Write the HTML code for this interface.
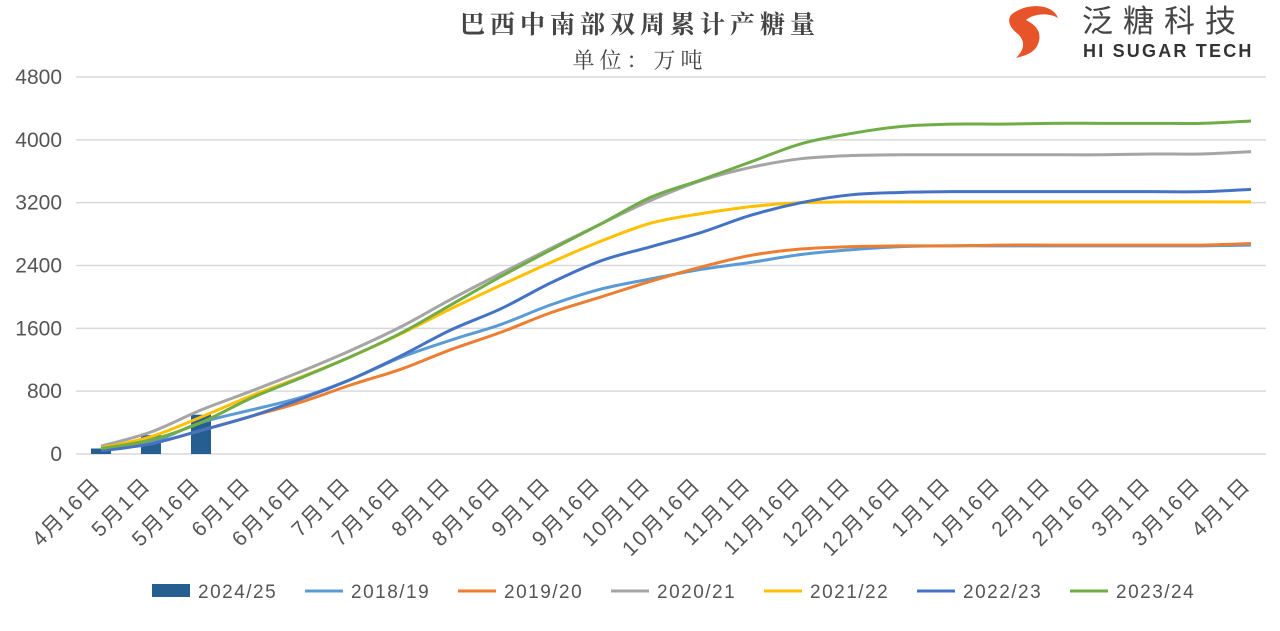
<!DOCTYPE html>
<html><head><meta charset="utf-8"><style>
body{margin:0;background:#fff;width:1280px;height:626px;overflow:hidden;font-family:"Liberation Sans","Noto Sans CJK SC",sans-serif;}
</style></head><body>
<svg id="s" width="1280" height="626" xmlns="http://www.w3.org/2000/svg" font-family="Liberation Sans, Noto Sans CJK SC, sans-serif">
<text x="640" y="33" text-anchor="middle" font-size="25" font-weight="bold" fill="#444" font-family="Noto Serif CJK SC, serif" letter-spacing="5">巴西中南部双周累计产糖量</text>
<text x="640" y="68" text-anchor="middle" font-size="22" fill="#444" font-family="Noto Serif CJK SC, serif" letter-spacing="5">单位：万吨</text>
<g transform="translate(1008,4)">
<path d="M4 10 C20 -2 45 0 50 14 C40 8 25 10 18 16 C30 22 34 30 30 40 C26 50 15 52 8 54 C16 46 18 38 10 30 C2 24 -2 16 4 10Z" fill="#e8542a"/>
</g>
<text x="1082" y="32" font-size="31" fill="#444" letter-spacing="10" font-family="Noto Sans CJK SC, sans-serif">泛糖科技</text>
<text x="1083" y="57" font-size="18" font-weight="bold" fill="#333" letter-spacing="2.2">HI SUGAR TECH</text>
<g id="grid"></g><g id="bars"></g><g id="lines" fill="none" stroke-width="3" stroke-linejoin="round"></g><g id="xl"></g>
<g font-size="19" fill="#555" letter-spacing="1.5">
<rect x="152" y="584" width="38" height="13" fill="#255e91"/><text x="198" y="598">2024/25</text>
<line x1="305" y1="591" x2="343" y2="591" stroke="#5b9bd5" stroke-width="3"/><text x="351" y="598">2018/19</text>
<line x1="458" y1="591" x2="496" y2="591" stroke="#ed7d31" stroke-width="3"/><text x="504" y="598">2019/20</text>
<line x1="611" y1="591" x2="649" y2="591" stroke="#a5a5a5" stroke-width="3"/><text x="657" y="598">2020/21</text>
<line x1="764" y1="591" x2="802" y2="591" stroke="#ffc000" stroke-width="3"/><text x="810" y="598">2021/22</text>
<line x1="917" y1="591" x2="955" y2="591" stroke="#4472c4" stroke-width="3"/><text x="963" y="598">2022/23</text>
<line x1="1070" y1="591" x2="1108" y2="591" stroke="#70ad47" stroke-width="3"/><text x="1116" y="598">2023/24</text>
</g>
</svg>
<script>
const NS="http://www.w3.org/2000/svg";
function el(p,t,a,txt){const e=document.createElementNS(NS,t);for(const k in a)e.setAttribute(k,a[k]);if(txt)e.textContent=txt;document.getElementById(p).appendChild(e);return e;}
const Y=v=>454-v*377/4800, X=i=>101+50*i;
for(let k=0;k<=6;k++){const y=Y(k*800);el("grid","line",{x1:76,x2:1266,y1:y,y2:y,stroke:"#d9d9d9","stroke-width":1.5});
el("grid","text",{x:62,y:y+7,"text-anchor":"end","font-size":21,fill:"#555"},String(k*800));}
const cats=["4月16日","5月1日","5月16日","6月1日","6月16日","7月1日","7月16日","8月1日","8月16日","9月1日","9月16日","10月1日","10月16日","11月1日","11月16日","12月1日","12月16日","1月1日","1月16日","2月1日","2月16日","3月1日","3月16日","4月1日"];
cats.forEach((c,i)=>{el("xl","text",{transform:`translate(${X(i)+1},${486}) rotate(-45)`,"text-anchor":"end","font-size":21,"letter-spacing":2,fill:"#555"},c);});
[70,240,500].forEach((v,i)=>el("bars","rect",{x:X(i)-10,y:Y(v),width:20,height:454-Y(v),fill:"#255e91"}));
const S=[
["#5b9bd5",[60,150,400,560,720,950,1230,1450,1650,1900,2100,2230,2350,2440,2540,2600,2640,2650,2650,2650,2650,2650,2650,2660]],
["#ed7d31",[50,130,300,480,660,880,1080,1330,1550,1800,2000,2200,2380,2530,2610,2640,2650,2650,2660,2660,2660,2660,2660,2680]],
["#a5a5a5",[100,280,560,800,1050,1320,1620,1970,2300,2620,2930,3230,3480,3650,3760,3800,3810,3810,3810,3810,3810,3820,3820,3850]],
["#ffc000",[80,220,470,740,980,1240,1530,1850,2150,2440,2710,2940,3060,3150,3200,3210,3210,3210,3210,3210,3210,3210,3210,3210]],
["#4472c4",[40,130,300,480,700,950,1250,1580,1850,2180,2460,2640,2820,3040,3200,3300,3330,3340,3340,3340,3340,3340,3340,3370]],
["#70ad47",[70,180,400,710,970,1240,1540,1900,2260,2600,2930,3270,3490,3720,3950,4080,4170,4200,4200,4210,4210,4210,4210,4240]]];
S.forEach(([c,d])=>{const p=d.map((v,i)=>[X(i),Y(v)]);let s=`M${p[0]}`;
for(let i=0;i<p.length-1;i++){const a=p[i-1]||p[i],b=p[i],q=p[i+1],r=p[i+2]||q;
s+=` C${b[0]+(q[0]-a[0])/6},${b[1]+(q[1]-a[1])/6} ${q[0]-(r[0]-b[0])/6},${q[1]-(r[1]-b[1])/6} ${q[0]},${q[1]}`;}
el("lines","path",{d:s,stroke:c});});
</script>
</body></html>
